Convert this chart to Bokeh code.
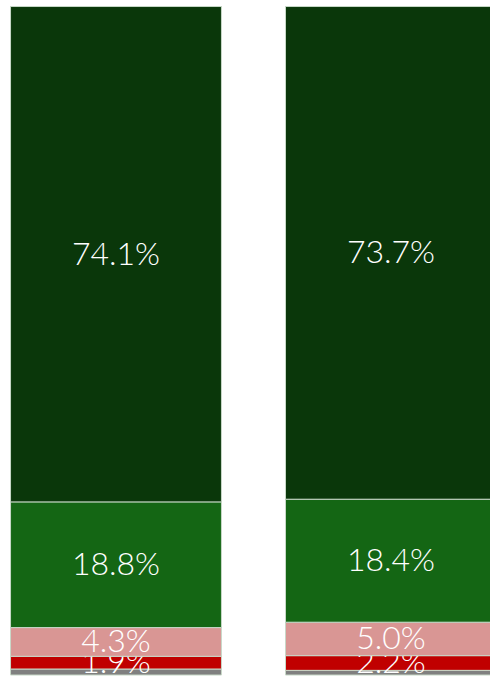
import numpy as np
from bokeh.plotting import figure
from bokeh.models import ColumnDataSource, Range1d
from bokeh.core.properties import value
from bokeh.embed import file_html
from bokeh.resources import INLINE

bars = [0, 1]
gray_vals = [0.9, 0.7]
red_vals = [1.9, 2.2]
pink_vals = [4.3, 5.0]
green_vals = [18.8, 18.4]
dark_vals = [74.1, 73.7]

series = [gray_vals, red_vals, pink_vals, green_vals, dark_vals]
colors = ["#808080", "#C00000", "#D99694", "#146614", "#0A370A"]
labeled = [False, True, True, True, True]

p = figure(width=490, height=676, output_backend="svg", toolbar_location=None,
           x_range=Range1d(-0.42, 1.362), y_range=Range1d(-0.22, 100.9),
           min_border=0, outline_line_color=None)
p.axis.visible = False
p.grid.visible = False
p.background_fill_color = "white"

bottom = np.zeros(len(bars))
for vals, col, lab in zip(series, colors, labeled):
    vals = np.array(vals)
    top = bottom + vals
    src = ColumnDataSource(dict(x=bars, bottom=bottom, top=top,
                                mid=(bottom + top) / 2,
                                label=[f"{v:.1f}%" for v in vals]))
    p.vbar(x="x", width=0.767, bottom="bottom", top="top", source=src,
           fill_color=col, line_color="#c8d8c8", line_width=1)
    if lab:
        p.text(x="x", y="mid", text="label", source=src, text_color="white",
               text_font=value("Lato Light, Lato"), text_font_size="32px",
               text_align="center", text_baseline="middle", y_offset=-2)
    bottom = top

open("out.html", "w").write(file_html(p, INLINE))
